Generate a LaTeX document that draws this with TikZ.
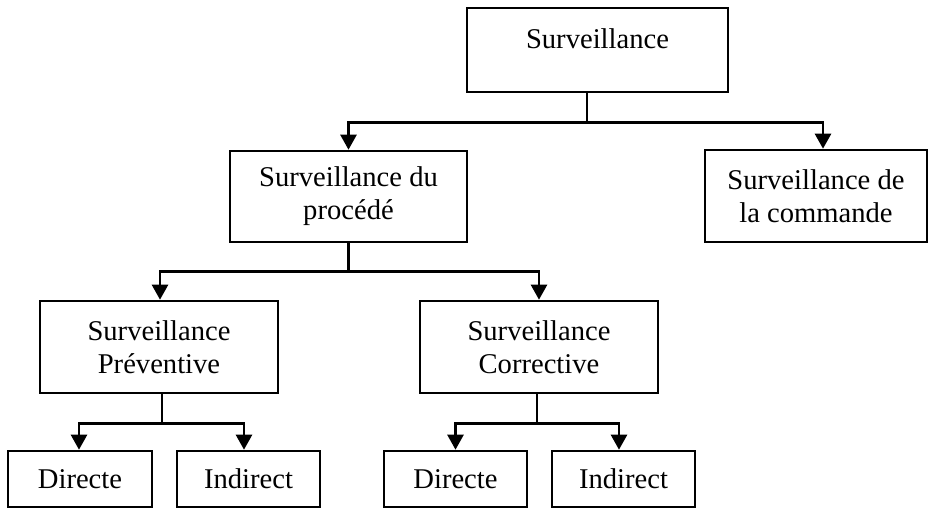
\documentclass[tikz,border=0pt]{standalone}
\usepackage{fontspec}
\setmainfont{Liberation Serif}
\usetikzlibrary{arrows.meta}
\begin{document}
\begin{tikzpicture}[x=1pt,y=-1pt,
  box/.style={draw=black,line width=2.6pt,rectangle,inner sep=0pt,align=center,
    font=\fontsize{28.6}{33}\selectfont},
  conn/.style={draw=black,line width=2.6pt,-{Triangle[width=16pt,length=15pt]}}]
\useasboundingbox[fill=white] (0,0) rectangle (930,509);
\node[box,minimum width=261pt,minimum height=84pt,text height=20pt,text depth=24pt] (top) at (597.5,50) {Surveillance};
\node[box,minimum width=237pt,minimum height=91pt] (proc) at (348.5,196.5) {Surveillance du\\procédé};
\node[box,minimum width=222pt,minimum height=92pt] (cmd) at (816,196) {Surveillance de\\la commande};
\node[box,minimum width=238pt,minimum height=92pt] (prev) at (159,347) {Surveillance\\Préventive};
\node[box,minimum width=238pt,minimum height=92pt] (corr) at (539,347) {Surveillance\\Corrective};
\node[box,minimum width=144pt,minimum height=56pt] (d1) at (80,479) {Directe};
\node[box,minimum width=143pt,minimum height=56pt] (i1) at (248.5,479) {Indirect};
\node[box,minimum width=143pt,minimum height=56pt] (d2) at (455.5,479) {Directe};
\node[box,minimum width=143pt,minimum height=56pt] (i2) at (623.5,479) {Indirect};
% connectors
\draw[conn] ([xshift=-10.5pt]top.south) -- ++(0,29) -| (proc.north);
\draw[conn] ([xshift=-10.5pt]top.south) -- ++(0,29) -| ([xshift=7pt]cmd.north);
\draw[conn] (proc.south) -- ++(0,28) -| ([xshift=1pt]prev.north);
\draw[conn] (proc.south) -- ++(0,28) -| (corr.north);
\draw[conn] ([xshift=3pt]prev.south) -- ++(0,29) -| ([xshift=-1pt]d1.north);
\draw[conn] ([xshift=3pt]prev.south) -- ++(0,29) -| ([xshift=-4.5pt]i1.north);
\draw[conn] ([xshift=-2pt]corr.south) -- ++(0,29) -| (d2.north);
\draw[conn] ([xshift=-2pt]corr.south) -- ++(0,29) -| ([xshift=-4.5pt]i2.north);
\end{tikzpicture}
\end{document}
